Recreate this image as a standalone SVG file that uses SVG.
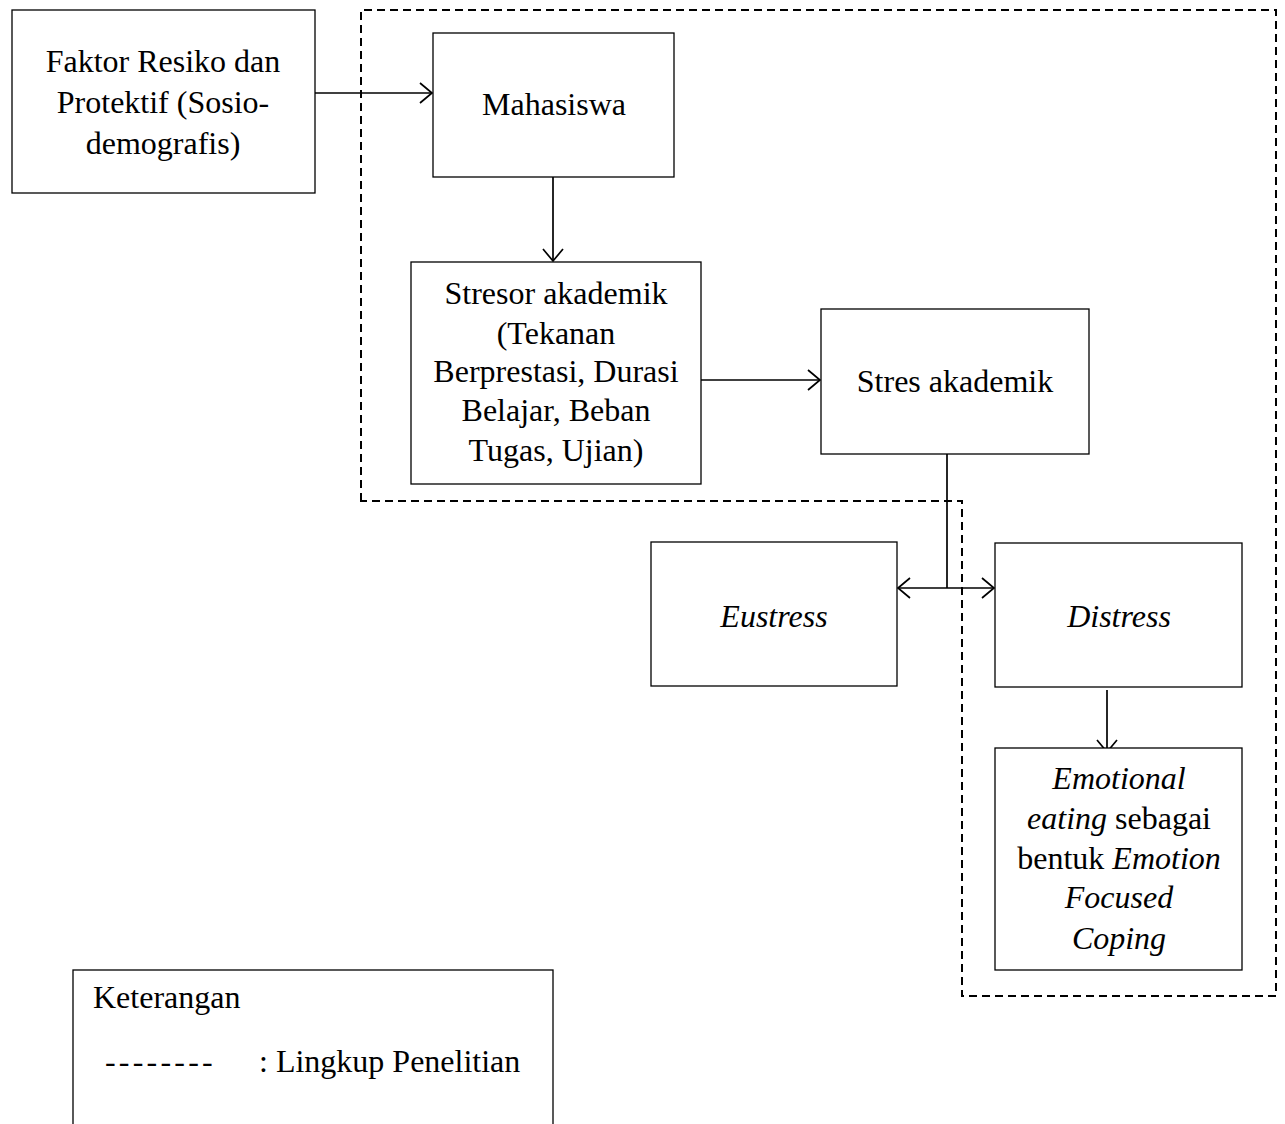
<svg xmlns="http://www.w3.org/2000/svg" width="1285" height="1124" viewBox="0 0 1285 1124">
<defs>
<style>
.box{fill:#fff;stroke:#000;stroke-width:1.3}
.t{font-family:"Liberation Serif","Times New Roman",serif;font-size:32px;fill:#000;text-anchor:middle}
.tl{font-family:"Liberation Serif","Times New Roman",serif;font-size:32px;fill:#000}
.i{font-style:italic}
.c{fill:none;stroke:#000;stroke-width:1.7}
.dash{fill:none;stroke:#000;stroke-width:2;stroke-dasharray:8 5}
</style>
<marker id="arr" markerUnits="userSpaceOnUse" markerWidth="16" markerHeight="24" refX="14" refY="12" orient="auto-start-reverse">
<path d="M2,2 L14,12 L2,22" fill="none" stroke="#000" stroke-width="1.7"/>
</marker>
</defs>
<rect width="1285" height="1124" fill="#fff"/>
<g id="scope">
<path class="dash" d="M361,501 L361,10 L1276,10 L1276,996 L962,996 L962,501 Z"/>
</g>
<g id="connectors">
<line class="c" x1="315" y1="93" x2="432" y2="93" marker-end="url(#arr)"/>
<line class="c" x1="553" y1="177" x2="553" y2="261" marker-end="url(#arr)"/>
<line class="c" x1="701" y1="380" x2="820" y2="380" marker-end="url(#arr)"/>
<line class="c" x1="947" y1="454" x2="947" y2="588"/>
<line class="c" x1="898" y1="588" x2="994" y2="588" marker-start="url(#arr)" marker-end="url(#arr)"/>
<line class="c" x1="1107" y1="690" x2="1107" y2="752" marker-end="url(#arr)"/>
</g>
<g id="faktor">
<rect class="box" x="12" y="10" width="303" height="183"/>
<text class="t" x="163" y="72">Faktor Resiko dan</text>
<text class="t" x="163" y="113">Protektif (Sosio-</text>
<text class="t" x="163" y="154">demografis)</text>
</g>
<g id="mahasiswa">
<rect class="box" x="433" y="33" width="241" height="144"/>
<text class="t" x="554" y="115">Mahasiswa</text>
</g>
<g id="stresor">
<rect class="box" x="411" y="262" width="290" height="222"/>
<text class="t" x="556" y="304">Stresor akademik</text>
<text class="t" x="556" y="344">(Tekanan</text>
<text class="t" x="556" y="382">Berprestasi, Durasi</text>
<text class="t" x="556" y="421">Belajar, Beban</text>
<text class="t" x="556" y="461">Tugas, Ujian)</text>
</g>
<g id="stres">
<rect class="box" x="821" y="309" width="268" height="145"/>
<text class="t" x="955" y="392">Stres akademik</text>
</g>
<g id="eustress">
<rect class="box" x="651" y="542" width="246" height="144"/>
<text class="t i" x="774" y="627">Eustress</text>
</g>
<g id="distress">
<rect class="box" x="995" y="543" width="247" height="144"/>
<text class="t i" x="1119" y="627">Distress</text>
</g>
<g id="coping">
<rect class="box" x="995" y="748" width="247" height="222"/>
<text class="t i" x="1119" y="789">Emotional</text>
<text class="t" x="1119" y="829"><tspan class="i">eating</tspan> sebagai</text>
<text class="t" x="1119" y="869">bentuk <tspan class="i">Emotion</tspan></text>
<text class="t i" x="1119" y="908">Focused</text>
<text class="t i" x="1119" y="949">Coping</text>
</g>
<g id="legend">
<rect class="box" x="73" y="970" width="480" height="180"/>
<text class="tl" x="93" y="1008">Keterangan</text>
<text class="tl" x="105" y="1072" letter-spacing="3.2">--------</text>
<text class="tl" x="259" y="1072">: Lingkup Penelitian</text>
</g>
</svg>
